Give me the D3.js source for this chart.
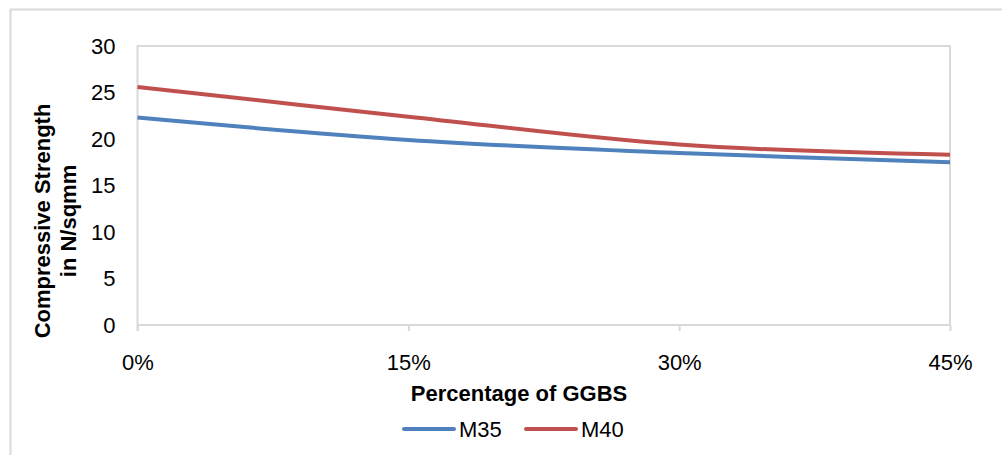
<!DOCTYPE html>
<html>
<head>
<meta charset="utf-8">
<script src="https://cdn.jsdelivr.net/npm/d3@7"></script>
<style>
  body { margin: 0; background: #fff; }
  svg text { font-family: "Liberation Sans", Arial, sans-serif; fill: #000; }
</style>
</head>
<body>
<svg id="chart" width="1002" height="455"></svg>
<script>
// data
var categories = ["0%", "15%", "30%", "45%"];
var m35 = [22.3, 19.9, 18.5, 17.5];
var m40 = [25.6, 22.4, 19.4, 18.3];
var yTicks = [0, 5, 10, 15, 20, 25, 30];
var seriesNames = ["M35", "M40"];
var seriesColors = ["#4f81bd", "#c0504d"];

var svg = d3.select("#chart");
var grey = "#d9d9d9";
var fontSize = "22px";

// outer chart border (runs off the right and bottom edge)
svg.append("rect")
  .attr("x", 10.5).attr("y", 9.5)
  .attr("width", 1010).attr("height", 460)
  .attr("fill", "none").attr("stroke", grey).attr("stroke-width", 2);

var plotLeft = 137.5, plotRight = 950, plotTop = 46, plotBottom = 325;

var x = d3.scalePoint()
  .domain(categories)
  .range([plotLeft, plotRight]);
var y = d3.scaleLinear()
  .domain([0, 30])
  .range([plotBottom, plotTop]);

// plot area box
svg.append("path")
  .attr("d", "M" + plotLeft + "," + (plotBottom + 6) + "V" + plotTop + "H" + plotRight + "V" + plotBottom)
  .attr("fill", "none").attr("stroke", grey).attr("stroke-width", 2);

// y axis labels
svg.append("g")
  .attr("transform", "translate(" + plotLeft + ",0)")
  .call(d3.axisLeft(y).tickValues(yTicks).tickSize(0).tickPadding(22))
  .call(g => g.select(".domain").remove())
  .call(g => g.selectAll("text")
    .style("font-size", fontSize)
    .attr("font-family", null));

// x axis
var xAxis = svg.append("g")
  .attr("transform", "translate(0," + plotBottom + ")")
  .call(d3.axisBottom(x).tickSize(6).tickSizeOuter(0).tickPadding(23));
xAxis.select(".domain").attr("stroke", grey).attr("stroke-width", 2)
  .attr("d", "M" + plotLeft + ",0H" + plotRight);
xAxis.selectAll(".tick line").attr("stroke", grey).attr("stroke-width", 2);
xAxis.selectAll("text").style("font-size", fontSize).attr("font-family", null);

// lines
var line = d3.line()
  .x(function(d, i) { return x(categories[i]); })
  .y(function(d) { return y(d); })
  .curve(d3.curveCardinal);

[m35, m40].forEach(function(values, i) {
  svg.append("path")
    .datum(values)
    .attr("fill", "none")
    .attr("stroke", seriesColors[i])
    .attr("stroke-width", 4)
    .attr("d", line);
});

// axis titles
svg.append("text")
  .attr("x", 519).attr("y", 401)
  .attr("text-anchor", "middle")
  .style("font-size", fontSize).style("font-weight", "bold")
  .text("Percentage of GGBS");

var yTitle = svg.append("text")
  .attr("transform", "translate(50,221) rotate(-90)")
  .attr("text-anchor", "middle")
  .style("font-size", fontSize).style("font-weight", "bold");
yTitle.append("tspan").attr("x", 0).attr("y", 0).text("Compressive Strength");
yTitle.append("tspan").attr("x", 0).attr("y", 26).text("in N/sqmm");

// legend
var legendX = [404, 526];
seriesNames.forEach(function(name, i) {
  var g = svg.append("g").attr("transform", "translate(" + legendX[i] + ",429)");
  g.append("line")
    .attr("x1", 0).attr("x2", 50)
    .attr("stroke", seriesColors[i]).attr("stroke-width", 4)
    .attr("stroke-linecap", "round");
  g.append("text")
    .attr("x", 55).attr("y", 8)
    .style("font-size", fontSize)
    .text(name);
});
</script>
</body>
</html>
